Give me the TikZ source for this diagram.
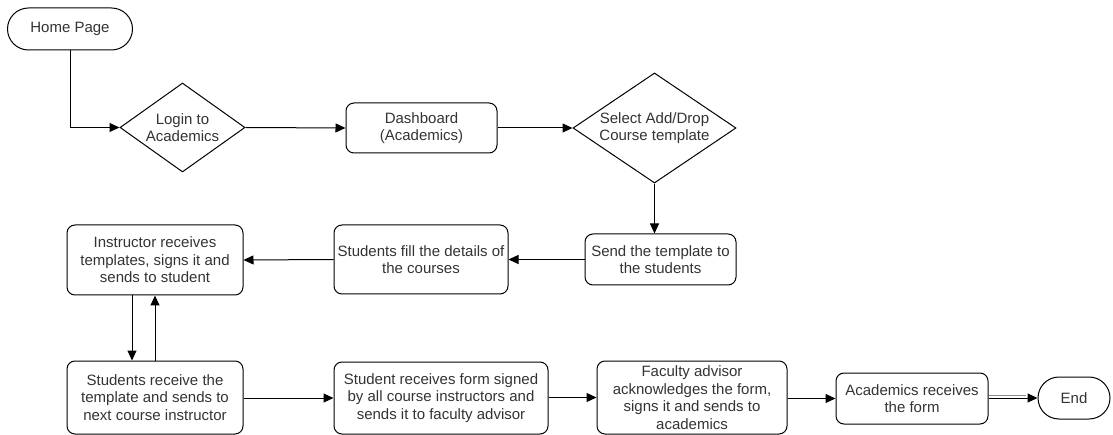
\documentclass[tikz,border=0pt]{standalone}
\usepackage{fontspec}
\setmainfont{Liberation Sans}
\usetikzlibrary{shapes.geometric,shapes.misc,arrows.meta}

\begin{document}
\begin{tikzpicture}[x=1pt,y=-1pt,
  every node/.style={font=\fontsize{15}{17.5}\selectfont, text=black!80, align=center, inner sep=0pt},
  box/.style={draw, line width=1pt, rounded corners=8pt, minimum width=#1},
  terminal/.style={draw, line width=1pt, rounded rectangle, minimum height=42pt},
  decision/.style={draw, line width=1pt, diamond, aspect=1.4},
  flow/.style={line width=1pt, -{Triangle[length=10pt,width=9pt]}}
]
\useasboundingbox (0,0) rectangle (1113,435);

% top row
\node[terminal, minimum width=125pt] (home) at (70,29) {Home Page};
\node[decision, minimum width=125pt, minimum height=89pt] (login) at (182.5,127.5) {Login to\\Academics};
\node[box=151pt, minimum height=50pt] (dash) at (421.5,128) {Dashboard\\(Academics)};
\node[decision, minimum width=163pt, minimum height=110pt] (select) at (654.5,128) {Select Add/Drop\\Course template};

% middle row
\node[box=151pt, minimum height=51pt] (send) at (660.5,259.5) {Send the template to\\the students};
\node[box=174pt, minimum height=69pt] (fill) at (421,259.5) {Students fill the details of\\the courses};
\node[box=176pt, minimum height=70pt] (instr) at (155,260) {Instructor receives\\templates, signs it and\\sends to student};

% bottom row
\node[box=176pt, minimum height=73pt] (recv) at (155,397.5) {Students receive the\\template and sends to\\next course instructor};
\node[box=214pt, minimum height=72pt] (signed) at (441,398) {Student receives form signed\\by all course instructors and\\sends it to faculty advisor};
\node[box=190pt, minimum height=73pt] (fac) at (692,397.5) {Faculty advisor\\acknowledges the form,\\signs it and sends to\\academics};
\node[box=152pt, minimum height=51pt] (acad) at (912,398.5) {Academics receives\\the form};
\node[terminal, minimum width=72pt] (end) at (1074,398) {End};

% connectors
\draw[flow] (home.south) |- (login.west);
\draw[flow] (login.east) -- (dash.west);
\draw[flow] (dash.east) -- (select.west);
\draw[flow] (select.south) -- (select.south |- send.north);
\draw[flow] (send.west) -- (fill.east);
\draw[flow] (fill.west) -- (instr.east);
\draw[flow] ([xshift=-23pt]instr.south) -- ([xshift=-23pt]recv.north);
\draw[flow] (recv.north) -- (instr.south);
\draw[flow] (recv.east |- signed.west) -- (signed.west);
\draw[flow] (signed.east |- fac.west) -- (fac.west);
\draw[flow] (fac.east |- acad.west) -- (acad.west);
\draw[flow] (acad.east |- end.west) -- (end.west);
\draw[line width=0.6pt, black!45] ([yshift=2.5pt]acad.east |- end.west) -- ([xshift=-12pt,yshift=2.5pt]end.west);
\end{tikzpicture}
\end{document}
